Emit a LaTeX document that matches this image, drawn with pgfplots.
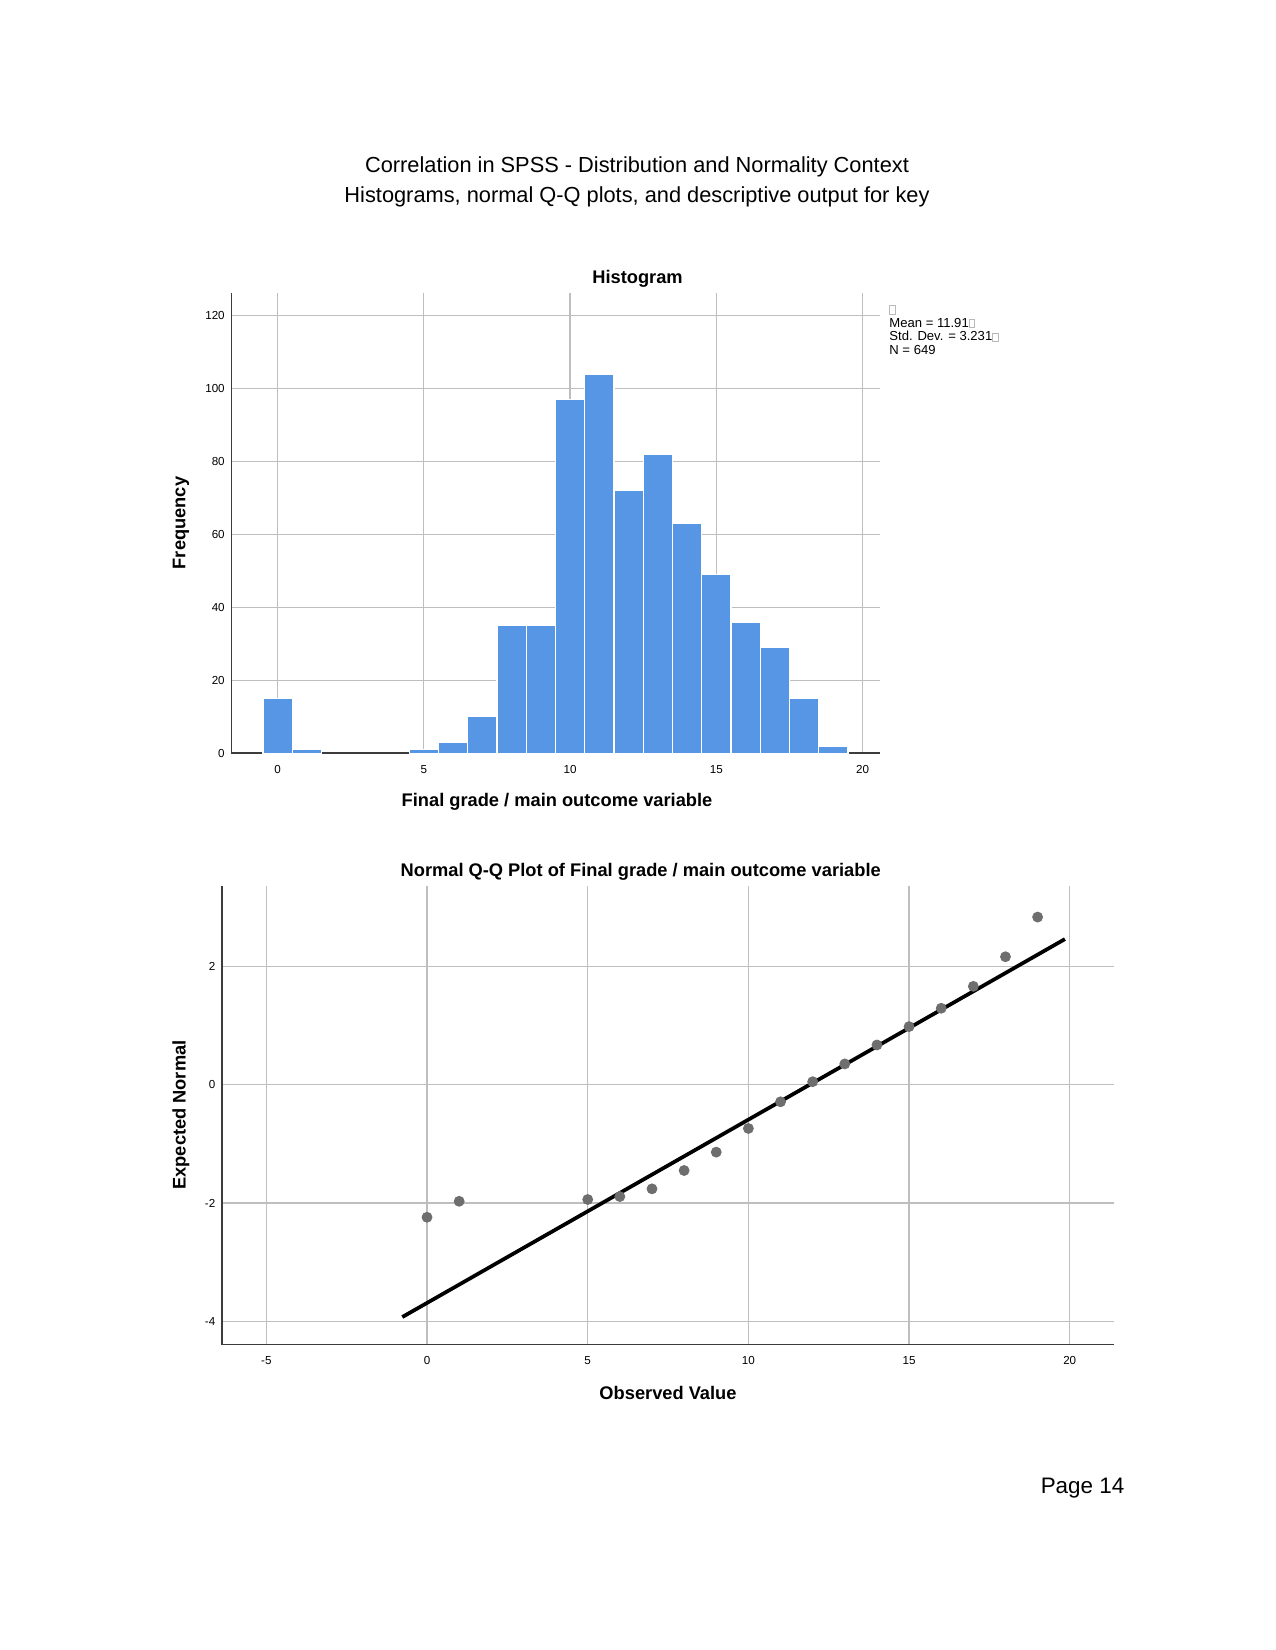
\documentclass[border=0pt]{standalone}
\usepackage{pgfplots}
\pgfplotsset{compat=1.18}
\usepackage{fontspec}
\setmainfont{Liberation Sans}
\definecolor{barblue}{HTML}{5696E4}
\definecolor{gridgray}{HTML}{BEBEBE}
\definecolor{axisgray}{HTML}{3C3C3C}
\definecolor{ptgray}{HTML}{6E6E6E}
\newcommand\tofu{{\color{gray!55}\setlength{\fboxrule}{0.3pt}\setlength{\fboxsep}{0pt}\fbox{\rule{0pt}{3.6pt}\rule{2.4pt}{0pt}}}}
\pgfplotstableread{
x f
0 15
1 1
5 1
6 3
7 10
8 35
9 35
10 97
11 104
12 72
13 82
14 63
15 49
16 36
17 29
18 15
19 2
}\histdata
\pgfplotstableread{
x z
0 -2.24
1 -1.97
5 -1.94
6 -1.89
7 -1.76
8 -1.45
9 -1.14
10 -0.74
11 -0.29
12 0.05
13 0.35
14 0.67
15 0.98
16 1.29
17 1.66
18 2.16
19 2.83
}\qqdata
\begin{document}
\begin{tikzpicture}[x=0.16933mm,y=-0.16933mm]
\path[use as bounding box] (0,0) rectangle (1275,1650);
\node[font=\fontsize{10.5}{12}\selectfont] at (637,166.5) {Correlation in SPSS - Distribution and Normality Context};
\node[font=\fontsize{10.5}{12}\selectfont] at (637,196.5) {Histograms, normal Q-Q plots, and descriptive output for key};
% Histogram
\begin{axis}[at={(39.183mm,-127.54mm)}, anchor=south west, scale only axis,
  width=109.9mm, height=78.0mm,
  xmin=-1.58, xmax=20.61, ymin=0, ymax=126.3,
  axis x line*=bottom, axis y line*=left,
  axis line style={-, draw=axisgray, line width=0.75pt},
  xtick={0,5,10,15,20}, ytick={0,20,40,60,80,100,120},
  major tick length=0pt,
  grid=major, major grid style={gridgray, line width=0.6pt},
  tick label style={font=\fontsize{5.6}{6}\selectfont},
  /pgf/number format/assume math mode=true,
  xticklabel style={yshift=-2.2pt},
  yticklabel style={xshift=0.3pt},
  clip=false]
\addplot[ybar, bar width=1, fill=barblue, draw=white, line width=0.6pt] table[x=x,y=f] {\histdata};
\end{axis}
\node[font=\fontsize{8.8}{10}\bfseries] at (637.5,279) {Histogram};
\node[font=\fontsize{8.8}{10}\bfseries] at (557,802) {Final grade / main outcome variable};
\node[font=\fontsize{8.8}{10}\bfseries, rotate=90] at (181,523) {Frequency};
\node[font=\fontsize{6.3}{6.6}\selectfont, anchor=north west, align=left, inner sep=0pt] at (889,305) {\tofu\\Mean = 11.91\tofu\\Std. Dev. = 3.231\tofu\\N = 649};
% Q-Q plot
\begin{axis}[at={(37.591mm,-227.67mm)}, anchor=south west, scale only axis,
  width=151.0mm, height=77.7mm,
  xmin=-6.38, xmax=21.37, ymin=-4.39, ymax=3.36,
  axis x line*=bottom, axis y line*=left,
  axis line style={-, draw=axisgray, line width=0.75pt},
  xtick={-5,0,5,10,15,20}, xticklabels={-5,0,5,10,15,20},
  ytick={-4,-2,0,2}, yticklabels={-4,-2,0,2},
  major tick length=0pt,
  grid=major, major grid style={gridgray, line width=0.6pt},
  tick label style={font=\fontsize{5.6}{6}\selectfont},
  xticklabel style={yshift=-2.2pt},
  yticklabel style={xshift=0.3pt},
  clip=false]
\addplot[only marks, mark=*, mark size=2.4pt, mark options={fill=ptgray, draw=ptgray}] table[x=x,y=z] {\qqdata};
\addplot[black, line width=1.8pt, no marks] coordinates {(-0.77,-3.925) (19.85,2.458)};
\end{axis}
\node[font=\fontsize{8.8}{10}\bfseries] at (640.7,871.5) {Normal Q-Q Plot of Final grade / main outcome variable};
\node[font=\fontsize{8.8}{10}\bfseries] at (668,1393) {Observed Value};
\node[font=\fontsize{8.8}{10}\bfseries, rotate=90] at (181,1115) {Expected Normal};
\node[font=\fontsize{10.8}{12}\selectfont] at (1082.5,1488) {Page 14};
\end{tikzpicture}
\end{document}
